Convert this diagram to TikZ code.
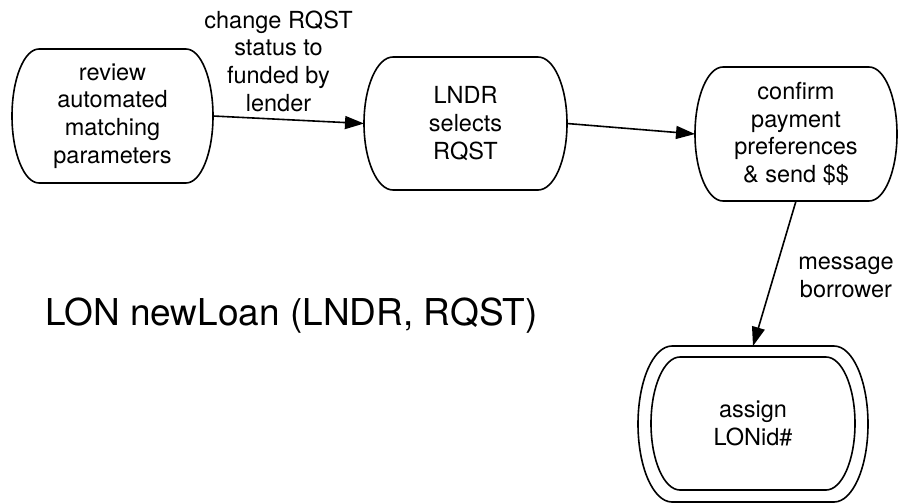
\documentclass[tikz,border=0pt]{standalone}
\usepackage{fontspec}
\setmainfont{TeX Gyre Heros}
\usetikzlibrary{arrows.meta}

\tikzset{
  stepnode/.style={rectangle, inner sep=0pt, outer sep=0pt, align=center,
    minimum width=202pt, minimum height=134pt,
    font=\fontsize{23.5}{27.7}\selectfont},
  outline/.style={line width=1.6pt},
  flowlabel/.style={align=center, inner sep=0pt,
    font=\fontsize{23.5}{27.7}\selectfont},
  flow/.style={line width=1.6pt, -{Triangle[length=19pt,width=13pt]}},
  title/.style={inner sep=0pt, font=\fontsize{37}{44}\selectfont}
}

% flat top and bottom, half-elliptic ends: node, end depth, half height
\newcommand\ovaloutline[3]{%
  \draw[outline] ([xshift=-#2]#1.north east)
    arc[start angle=90, end angle=-90, x radius=#2, y radius=#3]
    -- ([xshift=#2]#1.south west)
    arc[start angle=270, end angle=90, x radius=#2, y radius=#3]
    -- cycle;}

\begin{document}
\begin{tikzpicture}[x=1pt, y=-1pt]
  \useasboundingbox (0,0) rectangle (899,503);

  % process steps
  \node[stepnode, minimum width=201pt] (review) at (112.5,116) {review\\automated\\matching\\parameters};
  \node[stepnode, minimum width=203pt, minimum height=133pt] (select) at (465.5,123.5) {LNDR\\selects\\RQST};
  \node[stepnode] (confirm) at (796,134) {confirm\\payment\\preferences\\\& send \$\$};

  % final step with a double outline
  \node[stepnode, minimum width=230pt, minimum height=156pt] (finalout) at (753,424) {};
  \node[stepnode, minimum width=204pt, minimum height=133pt] (final) at (753,423.5) {assign\\LONid\#};

  \ovaloutline{review}{27pt}{67pt}
  \ovaloutline{select}{29pt}{66.5pt}
  \ovaloutline{confirm}{28pt}{67pt}
  \ovaloutline{finalout}{34pt}{78pt}
  \ovaloutline{final}{29pt}{66.5pt}

  % connectors
  \draw[flow] (review.east) -- (select.west);
  \draw[flow] (select.east) -- (confirm.west);
  \draw[flow] (confirm.south) -- (finalout.north);

  % connector labels
  \node[flowlabel] (lblfund) at (278.5,61) {change RQST\\status to\\funded by\\lender};
  \node[flowlabel] (lblmsg) at (846,277) {message\\borrower};

  % title
  \node[title] (heading) at (291.5,316) {LON newLoan (LNDR, RQST)};
\end{tikzpicture}
\end{document}
